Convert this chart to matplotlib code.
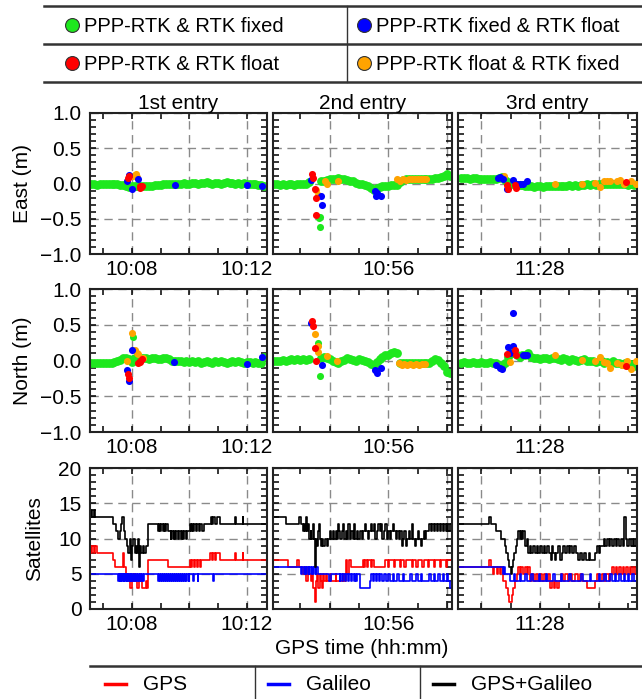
import numpy as np
import matplotlib
matplotlib.use('Agg')
import matplotlib.pyplot as plt
from matplotlib.ticker import MultipleLocator, FuncFormatter

plt.rcParams['font.family'] = ['Liberation Sans', 'DejaVu Sans']
plt.rcParams['font.size'] = 15

# ---------------- data (time in minutes since 00:00) ----------------
col_xlim = [(606.55, 612.70), (652.07, 658.17), (685.20, 691.31)]
col_titles = ['1st entry', '2nd entry', '3rd entry']
green_span = [(606.6, 612.6), (652.1, 658.1), (685.3, 691.3)]

nan = np.nan
# green = PPP-RTK & RTK fixed, sampled along each entry
east_green = [
    [-0.01, -0.01, -0.02, -0.01, -0.01, 0.0, -0.01, -0.01, -0.01, -0.01, -0.02, -0.02, -0.04, -0.05, -0.04,
     -0.03, -0.03, -0.04, -0.04, -0.04, -0.03, -0.03, -0.02, -0.02, -0.02, -0.01, -0.01, -0.01, 0.0, -0.01,
     0.0, 0.0, 0.01, 0.0, 0.0, 0.01, 0.01, 0.0, 0.01, 0.01, 0.02, 0.01, 0.0, 0.01, 0.01, 0.0, 0.01, 0.02,
     0.01, 0.01, 0.0, 0.01, 0.0, 0.01, 0.0, -0.01, 0.0, -0.01, -0.02, -0.02, -0.03],
    [-0.01, -0.01, -0.02, -0.01, -0.02, -0.01, -0.01, -0.02, -0.01, 0.0, -0.01, 0.0, 0.02, nan, nan, nan,
     0.03, 0.04, 0.05, 0.06, 0.07, 0.07, 0.08, 0.07, 0.06, 0.05, 0.04, 0.03, 0.01, 0.0, -0.01, -0.02, -0.03,
     -0.06, -0.09, -0.07, -0.05, -0.04, -0.03, -0.03, -0.02, -0.02, -0.02, 0.02, 0.05, 0.06, 0.06, 0.06,
     0.06, 0.06, 0.06, 0.06, 0.06, 0.07, 0.07, 0.08, 0.08, 0.09, 0.1, 0.13, 0.1],
    [0.08, 0.08, 0.08, 0.07, 0.08, 0.08, 0.07, 0.07, 0.07, 0.06, 0.07, 0.07, 0.07, 0.08, 0.09, 0.05, 0.02,
     0.0, -0.01, -0.02, -0.02, -0.02, -0.03, -0.04, -0.04, -0.05, -0.04, -0.04, -0.05, -0.04, -0.04, -0.03,
     -0.04, -0.03, -0.04, -0.03, -0.03, -0.02, -0.03, -0.02, -0.03, -0.02, -0.02, -0.01, -0.02, -0.01, -0.02,
     -0.01, -0.01, 0.0, -0.01, 0.0, -0.01, 0.0, -0.01, 0.0, -0.01, -0.02, -0.01, -0.02, -0.01],
]
north_green = [
    [-0.03, -0.03, -0.04, -0.03, -0.03, -0.04, -0.03, -0.03, -0.02, -0.01, 0.01, 0.03, 0.04, 0.02, -0.02,
     0.04, 0.05, 0.04, 0.04, 0.03, 0.02, 0.03, 0.03, 0.02, 0.02, 0.03, 0.04, 0.02, 0.0, -0.01, 0.0, -0.01,
     -0.02, -0.01, -0.02, -0.01, -0.02, -0.01, -0.03, -0.02, -0.01, -0.02, -0.03, -0.01, -0.02, -0.01, -0.02,
     -0.03, -0.02, -0.01, -0.02, -0.01, -0.02, -0.03, -0.02, -0.02, -0.03, -0.02, -0.03, -0.03, 0.05],
    [0.0, -0.01, 0.0, 0.01, 0.0, 0.01, 0.02, 0.01, 0.02, 0.01, 0.02, 0.01, 0.02, nan, nan, nan, 0.04, 0.05,
     0.03, 0.02, 0.0, -0.02, -0.03, 0.0, 0.01, 0.03, 0.02, 0.01, 0.0, 0.02, 0.01, 0.0, -0.02, -0.05, -0.06,
     -0.02, 0.02, 0.05, 0.07, 0.08, 0.1, 0.12, 0.1, -0.03, -0.04, -0.04, -0.04, -0.04, -0.04, -0.04, -0.04,
     -0.04, -0.04, -0.03, 0.0, 0.02, 0.01, -0.03, -0.08, -0.16, -0.17],
    [-0.03, -0.02, -0.03, -0.03, -0.02, -0.03, -0.03, -0.02, -0.03, -0.03, -0.02, -0.03, -0.04, -0.06, -0.08,
     -0.04, 0.05, 0.1, 0.1, 0.07, 0.05, 0.07, 0.08, 0.1, 0.05, 0.03, 0.04, 0.02, 0.03, 0.04, 0.02, 0.03,
     0.04, 0.02, 0.01, 0.03, 0.02, 0.0, 0.02, 0.01, 0.0, 0.01, 0.02, 0.0, -0.01, 0.0, -0.02, 0.0, -0.01,
     -0.03, -0.02, -0.03, -0.01, -0.04, -0.03, -0.05, -0.04, -0.06, -0.05, -0.07, -0.06],
]
# isolated green epochs (t, value)
east_green_extra = [[], [(653.63, -0.49), (653.66, -0.61), (653.68, -0.47)], []]
north_green_extra = [[(608.03, 0.33)], [(653.60, 0.25), (653.66, -0.21)], []]

# orange = PPP-RTK float & RTK fixed
east_orange = [
    [(607.83, 0.04), (608.06, 0.10), (608.15, 0.13), (608.20, 0.09), (608.12, 0.12)],
    [(653.83, 0.03), (653.91, 0.0), (654.29, 0.04), (653.54, -0.09), (653.60, -0.16),
     (656.29, 0.06), (656.40, 0.04), (656.50, 0.07), (656.60, 0.05), (656.70, 0.07), (656.80, 0.06),
     (656.90, 0.07), (657.00, 0.06), (657.10, 0.07), (657.20, 0.06), (657.30, 0.07)],
    [(686.77, 0.10), (688.51, -0.01), (689.43, -0.005), (689.89, 0.005), (690.06, -0.05), (690.17, 0.03),
     (690.29, 0.04), (690.40, 0.03), (690.63, 0.03), (690.74, 0.05), (690.86, 0.0), (691.09, 0.03),
     (691.26, -0.01)],
]
north_orange = [
    [(608.02, 0.38), (607.83, 0.0), (608.12, 0.15), (608.17, 0.11), (608.23, 0.09), (608.40, 0.04)],
    [(653.49, 0.37), (653.60, 0.20), (653.62, 0.12), (653.91, 0.06), (654.25, 0.0),
     (656.35, -0.04), (656.45, -0.06), (656.55, -0.05), (656.65, -0.06), (656.75, -0.05), (656.85, -0.06),
     (656.95, -0.05), (657.05, -0.06), (657.15, -0.05), (657.25, -0.05)],
    [(686.97, -0.02), (688.51, 0.08), (689.43, 0.01), (689.89, 0.0), (690.06, 0.05), (690.17, -0.02),
     (690.29, -0.04), (690.40, -0.10), (690.63, -0.04), (690.80, -0.06), (690.97, 0.0), (691.09, -0.12),
     (691.26, 0.0)],
]
# blue = PPP-RTK fixed & RTK float
east_blue = [
    [(607.83, 0.03), (607.92, 0.12), (608.00, -0.08), (608.23, 0.06), (609.50, -0.02), (612.02, -0.02),
     (612.54, -0.03)],
    [(653.37, 0.05), (653.71, -0.18), (653.74, -0.31), (655.54, -0.11), (655.58, -0.18), (655.75, -0.18),
     (655.60, -0.14)],
    [(686.57, 0.08), (686.63, 0.09), (687.09, 0.05), (687.20, -0.01), (687.43, -0.01), (687.54, 0.03),
     (686.88, -0.08), (686.74, 0.07), (687.31, 0.0)],
]
north_blue = [
    [(607.85, -0.13), (607.92, -0.28), (608.00, 0.15), (609.48, -0.02), (612.02, -0.05), (612.53, 0.05)],
    [(653.35, 0.52), (653.74, -0.06), (655.54, -0.13), (655.60, -0.17), (655.75, -0.10)],
    [(686.51, -0.06), (686.63, -0.10), (686.69, -0.12), (686.91, 0.19), (687.09, 0.20), (687.09, 0.66),
     (687.43, 0.08), (687.54, 0.08), (687.49, 0.07), (686.97, 0.10)],
]
# red = PPP-RTK & RTK float
east_red = [
    [(607.88, 0.08), (607.90, 0.10), (608.27, -0.04), (608.35, -0.03), (608.29, -0.07), (608.31, -0.05)],
    [(653.41, 0.13), (653.45, 0.08), (653.49, -0.08), (653.52, -0.21), (653.54, -0.45)],
    [(686.88, -0.02), (686.91, -0.08), (687.14, -0.02), (687.18, -0.06), (690.95, 0.02)],
]
north_red = [
    [(607.88, -0.19), (607.91, -0.24), (608.21, -0.04), (608.27, -0.02), (608.35, 0.02), (608.29, 0.0)],
    [(653.39, 0.55), (653.43, 0.48), (653.51, 0.18), (653.54, -0.01)],
    [(686.88, 0.09), (687.14, 0.15), (687.18, 0.08), (690.95, -0.08)],
]

# satellites: (time of change, count)
sat_gps = [
    [(606.55, 9), (606.60, 8), (606.63, 9), (606.68, 8), (606.72, 9), (606.78, 8), (607.36, 7), (607.42, 6),
     (607.68, 8), (607.73, 6), (607.80, 5), (607.85, 4), (607.90, 5), (607.95, 3), (608.00, 4), (608.03, 5),
     (608.08, 4), (608.12, 5), (608.16, 4), (608.20, 3), (608.24, 4), (608.28, 5), (608.31, 4), (608.35, 3),
     (608.48, 4), (608.52, 3), (608.58, 7), (609.27, 6), (610.02, 7), (610.06, 6), (610.10, 7), (610.15, 6),
     (610.20, 7), (610.26, 6), (610.30, 7), (610.36, 6), (610.42, 7), (610.72, 8), (610.78, 7), (610.82, 8),
     (610.88, 7), (610.92, 8), (611.06, 7), (611.58, 8), (611.62, 7), (611.85, 8), (611.88, 7), (612.70, 7)],
    [(652.07, 7), (652.57, 6), (652.90, 7), (652.95, 6), (653.10, 5), (653.15, 6), (653.20, 4), (653.25, 6),
     (653.31, 5), (653.35, 4), (653.40, 5), (653.45, 3), (653.50, 1), (653.54, 4), (653.58, 5), (653.62, 3),
     (653.66, 5), (653.70, 4), (653.74, 3), (653.78, 5), (653.82, 4), (653.86, 5), (653.90, 4), (654.00, 5),
     (654.03, 4), (654.20, 5), (654.23, 4), (654.45, 5), (654.48, 4), (654.57, 7), (654.60, 5), (654.65, 7),
     (654.74, 6), (655.14, 7), (655.18, 6), (655.22, 7), (655.28, 6), (655.32, 7), (655.40, 6), (655.45, 7),
     (655.50, 6), (655.89, 7), (655.98, 6), (656.02, 7), (656.20, 6), (656.24, 7), (656.40, 6), (656.44, 7),
     (656.55, 6), (656.60, 7), (656.80, 6), (656.84, 7), (656.95, 6), (657.00, 7), (657.15, 6), (657.20, 7),
     (657.35, 6), (657.40, 7), (657.55, 6), (657.60, 7), (657.75, 6), (657.80, 7), (657.95, 6), (658.00, 7),
     (658.17, 7)],
    [(685.20, 6), (686.27, 7), (686.31, 6), (686.40, 5), (686.44, 6), (686.52, 5), (686.56, 6), (686.62, 5),
     (686.66, 6), (686.74, 4), (686.85, 3), (686.90, 2), (686.95, 1), (687.03, 2), (687.08, 3), (687.14, 4),
     (687.20, 5), (687.25, 6), (687.30, 5), (687.35, 6), (687.42, 5), (687.48, 6), (687.55, 5), (687.60, 6),
     (687.66, 4), (687.72, 5), (687.78, 4), (687.85, 5), (687.92, 4), (688.00, 5), (688.06, 4), (688.12, 5),
     (688.20, 4), (688.28, 5), (688.34, 3), (688.40, 4), (688.46, 3), (688.52, 4), (688.58, 3), (688.64, 4),
     (688.70, 5), (688.78, 4), (688.86, 5), (688.94, 4), (689.02, 5), (689.10, 4), (689.20, 5), (689.28, 4),
     (689.36, 5), (689.44, 4), (689.60, 3), (689.89, 4), (689.95, 5), (690.02, 4), (690.10, 5), (690.18, 4),
     (690.26, 5), (690.34, 4), (690.40, 5), (690.46, 6), (690.52, 5), (690.58, 6), (690.64, 5), (690.70, 6),
     (690.76, 5), (690.82, 6), (690.88, 5), (690.94, 6), (691.00, 5), (691.06, 6), (691.12, 5), (691.18, 6),
     (691.24, 5), (691.31, 5)],
]
sat_gal = [
    [(606.55, 5), (607.54, 4), (607.56, 5), (607.58, 4), (607.60, 5), (607.62, 4), (607.64, 5), (607.67, 4),
     (607.69, 5), (607.72, 4), (607.74, 5), (607.77, 4), (607.79, 5), (607.82, 4), (607.85, 5), (607.88, 4),
     (607.90, 5), (607.93, 4), (607.96, 5), (607.99, 4), (608.02, 5), (608.05, 4), (608.08, 5), (608.12, 4),
     (608.15, 5), (608.19, 4), (608.22, 5), (608.26, 4), (608.29, 5), (608.33, 4), (608.36, 5), (608.40, 4),
     (608.43, 5), (608.92, 4), (608.94, 5), (608.98, 4), (609.00, 5), (609.05, 4), (609.07, 5), (609.12, 4),
     (609.14, 5), (609.19, 4), (609.21, 5), (609.26, 4), (609.28, 5), (609.33, 4), (609.35, 5), (609.40, 4),
     (609.42, 5), (609.47, 4), (609.49, 5), (609.54, 4), (609.56, 5), (609.61, 4), (609.63, 5), (609.68, 4),
     (609.70, 5), (609.75, 4), (609.77, 5), (609.82, 4), (609.84, 5), (609.90, 4), (609.92, 5), (609.98, 4),
     (610.00, 5), (610.14, 4), (610.16, 5), (610.29, 4), (610.31, 5), (610.83, 4), (610.85, 5), (612.70, 5)],
    [(652.07, 6), (653.03, 5), (653.06, 6), (653.12, 5), (653.15, 6), (653.20, 5), (653.23, 6), (653.28, 5),
     (653.31, 6), (653.36, 5), (653.39, 6), (653.44, 5), (653.47, 6), (653.52, 5), (653.55, 6), (653.60, 5),
     (653.97, 4), (654.03, 5), (654.34, 4), (654.37, 5), (654.42, 4), (654.45, 5), (654.52, 4), (654.55, 5),
     (654.62, 4), (654.65, 5), (654.72, 4), (654.75, 5), (654.82, 4), (654.85, 5), (654.90, 4), (654.93, 5),
     (655.03, 3), (655.37, 4), (655.42, 5), (655.47, 4), (655.52, 5), (655.58, 4), (655.62, 5), (655.68, 4),
     (655.72, 5), (655.80, 4), (655.85, 5), (655.92, 4), (656.00, 5), (656.05, 4), (656.15, 5), (656.20, 4),
     (656.30, 5), (656.35, 4), (656.50, 5), (656.55, 4), (656.75, 5), (656.80, 4), (656.95, 5), (657.00, 4),
     (657.10, 5), (657.15, 4), (657.40, 5), (657.45, 4), (657.55, 5), (657.60, 4), (657.70, 5), (657.75, 4),
     (657.85, 5), (657.90, 4), (658.00, 5), (658.05, 4), (658.10, 3), (658.17, 3)],
    [(685.20, 6), (686.74, 5), (686.78, 6), (686.82, 5), (686.97, 4), (687.10, 5), (687.14, 4), (687.30, 5),
     (687.34, 4), (687.50, 5), (687.55, 4), (687.70, 5), (687.75, 4), (687.95, 5), (688.00, 4), (688.20, 5),
     (688.25, 4), (688.45, 5), (688.50, 4), (688.70, 5), (688.75, 4), (689.00, 5), (689.05, 4), (689.40, 5),
     (689.45, 4), (689.70, 5), (689.75, 4), (690.00, 5), (690.05, 4), (690.20, 5), (690.25, 4), (690.40, 5),
     (690.45, 4), (690.55, 5), (690.60, 4), (690.70, 5), (690.75, 4), (690.85, 5), (690.90, 4), (691.00, 5),
     (691.05, 4), (691.15, 5), (691.20, 4), (691.31, 4)],
]
sat_both = [
    [(606.55, 13), (606.60, 14), (606.63, 13), (606.68, 14), (606.72, 13), (607.36, 12), (607.45, 11),
     (607.52, 10), (607.58, 11), (607.62, 12), (607.66, 13), (607.72, 11), (607.78, 10), (607.83, 9),
     (607.88, 8), (607.93, 10), (607.97, 7), (608.01, 9), (608.06, 10), (608.10, 8), (608.14, 9), (608.18, 8),
     (608.22, 10), (608.25, 6), (608.29, 9), (608.33, 8), (608.38, 9), (608.42, 8), (608.50, 9), (608.58, 12),
     (608.92, 11), (608.95, 12), (608.99, 11), (609.03, 12), (609.07, 11), (609.12, 12), (609.16, 11),
     (609.20, 12), (609.26, 11), (609.35, 10), (609.38, 11), (609.44, 10), (609.47, 11), (609.52, 10),
     (609.55, 11), (609.60, 10), (609.64, 11), (609.70, 10), (609.73, 11), (609.78, 10), (609.82, 11),
     (609.88, 10), (609.92, 11), (610.02, 12), (610.05, 11), (610.10, 12), (610.14, 11), (610.18, 12),
     (610.23, 11), (610.28, 12), (610.32, 11), (610.37, 12), (610.45, 11), (610.50, 12), (610.75, 13),
     (610.80, 12), (610.84, 13), (610.90, 12), (610.95, 13), (611.06, 12), (611.58, 13), (611.62, 12),
     (611.85, 13), (611.88, 12), (612.70, 12)],
    [(652.07, 13), (652.51, 12), (652.97, 13), (653.03, 12), (653.09, 11), (653.13, 12), (653.17, 11),
     (653.20, 13), (653.24, 11), (653.27, 12), (653.31, 10), (653.35, 11), (653.38, 10), (653.42, 12),
     (653.46, 10), (653.49, 6), (653.52, 10), (653.56, 9), (653.60, 11), (653.64, 12), (653.68, 10),
     (653.71, 9), (653.75, 10), (653.79, 9), (653.83, 10), (653.90, 9), (653.95, 10), (654.01, 11),
     (654.06, 10), (654.10, 11), (654.15, 10), (654.20, 11), (654.25, 10), (654.30, 12), (654.33, 11),
     (654.37, 10), (654.41, 11), (654.45, 12), (654.50, 10), (654.55, 11), (654.60, 10), (654.63, 12),
     (654.68, 10), (654.73, 11), (654.78, 10), (654.82, 12), (654.87, 10), (654.92, 11), (654.97, 10),
     (655.05, 11), (655.10, 10), (655.15, 11), (655.20, 12), (655.25, 11), (655.30, 10), (655.35, 11),
     (655.40, 12), (655.45, 11), (655.50, 12), (655.55, 10), (655.60, 11), (655.65, 12), (655.70, 11),
     (655.75, 12), (655.80, 10), (655.85, 11), (655.90, 12), (655.95, 10), (656.00, 11), (656.05, 10),
     (656.10, 11), (656.15, 12), (656.20, 11), (656.25, 10), (656.30, 11), (656.35, 10), (656.40, 11),
     (656.45, 9), (656.50, 10), (656.55, 11), (656.60, 9), (656.65, 10), (656.70, 11), (656.75, 10),
     (656.80, 12), (656.85, 10), (656.90, 9), (656.95, 10), (657.00, 11), (657.05, 10), (657.10, 9),
     (657.15, 10), (657.20, 11), (657.25, 10), (657.30, 11), (657.40, 12), (657.45, 11), (657.50, 12),
     (657.55, 11), (657.60, 12), (657.65, 11), (657.70, 12), (657.75, 11), (657.80, 12), (657.85, 11),
     (657.90, 12), (657.95, 11), (658.00, 12), (658.05, 11), (658.10, 12), (658.17, 12)],
    [(685.20, 12), (686.27, 13), (686.31, 12), (686.51, 11), (686.68, 10), (686.80, 9), (686.85, 8),
     (686.90, 7), (686.95, 6), (687.00, 5), (687.04, 6), (687.08, 7), (687.12, 8), (687.17, 9), (687.22, 10),
     (687.26, 11), (687.30, 10), (687.34, 11), (687.38, 10), (687.42, 11), (687.50, 9), (687.55, 10),
     (687.60, 8), (687.65, 9), (687.70, 8), (687.76, 9), (687.82, 8), (687.88, 9), (687.94, 8), (688.00, 9),
     (688.06, 8), (688.12, 9), (688.18, 8), (688.24, 9), (688.30, 8), (688.36, 7), (688.40, 9), (688.45, 8),
     (688.50, 7), (688.56, 8), (688.62, 9), (688.68, 7), (688.74, 8), (688.80, 9), (688.86, 8), (688.92, 9),
     (688.98, 8), (689.04, 9), (689.10, 8), (689.16, 9), (689.22, 8), (689.28, 7), (689.36, 8), (689.42, 7),
     (689.50, 8), (689.56, 7), (689.66, 8), (689.72, 7), (689.89, 8), (689.95, 9), (690.00, 8), (690.06, 9),
     (690.17, 10), (690.22, 9), (690.28, 10), (690.34, 9), (690.40, 10), (690.46, 9), (690.52, 10),
     (690.58, 9), (690.64, 10), (690.70, 9), (690.76, 10), (690.82, 9), (690.88, 13), (690.92, 10),
     (690.98, 9), (691.04, 10), (691.10, 9), (691.16, 10), (691.22, 9), (691.28, 10), (691.31, 10)],
]

GREEN = '#1ee81e'
RED = '#ff0000'
BLUE = '#0000ff'
ORANGE = '#ffa300'

W, H = 642, 699
fig = plt.figure(figsize=(W / 100, H / 100), dpi=100)

col_px = [(90, 267), (273, 452), (458, 637)]
row_px = [(113, 254), (289, 432), (468, 609)]


def px_axes(x0, x1, y0, y1):
    return fig.add_axes([x0 / W, 1 - y1 / H, (x1 - x0) / W, (y1 - y0) / H])


def hhmm(v, pos):
    m = int(round(v))
    if m % 4:
        return ''
    return f'{m // 60}:{m % 60:02d}'


def style(ax, show_y):
    ax.xaxis.set_major_locator(MultipleLocator(2))
    ax.xaxis.set_minor_locator(MultipleLocator(1))
    ax.xaxis.set_major_formatter(FuncFormatter(hhmm))
    ax.grid(True, which='major', color='#8a8a8a', linestyle=(0, (6, 4)), linewidth=1.0)
    ax.tick_params(which='both', direction='in', top=True, right=True, length=4.5, width=1.1,
                   labelsize=15, pad=4)
    ax.tick_params(axis='y', pad=6)
    for s in ax.spines.values():
        s.set_linewidth(1.5)
        s.set_color('#222222')
    if not show_y:
        ax.tick_params(labelleft=False)
    ax.set_axisbelow(True)


def scat(ax, pts, color):
    if len(pts) == 0:
        return
    t, v = zip(*pts)
    ax.scatter(t, v, s=26, color=color, linewidths=0, zorder=3)


for j in range(3):
    x0, x1 = col_px[j]
    g_t = np.linspace(green_span[j][0], green_span[j][1], len(east_green[j]))
    for i, (green, extra, orange, blue, red) in enumerate([
            (east_green[j], east_green_extra[j], east_orange[j], east_blue[j], east_red[j]),
            (north_green[j], north_green_extra[j], north_orange[j], north_blue[j], north_red[j])]):
        ax = px_axes(x0, x1, *row_px[i])
        ax.scatter(g_t, green, s=40, color=GREEN, linewidths=0, zorder=2)
        scat(ax, extra, GREEN)
        scat(ax, orange, ORANGE)
        scat(ax, blue, BLUE)
        scat(ax, red, RED)
        ax.set_xlim(*col_xlim[j])
        ax.set_ylim(-1.0, 1.0)
        ax.yaxis.set_major_locator(MultipleLocator(0.5))
        ax.yaxis.set_minor_locator(MultipleLocator(0.1))
        ax.yaxis.set_major_formatter(FuncFormatter(lambda v, p: f'{v:.1f}'.replace('-', '\u2212')))
        style(ax, j == 0)
        if i == 0:
            ax.set_title(col_titles[j], fontsize=15, pad=3)
        if j == 0:
            ax.set_ylabel(['East (m)', 'North (m)'][i], fontsize=15, labelpad=6)

    ax = px_axes(x0, x1, *row_px[2])
    for series, color in [(sat_gps[j], RED), (sat_gal[j], BLUE), (sat_both[j], 'black')]:
        t, v = zip(*series)
        ax.plot(t, v, drawstyle='steps-post', color=color, linewidth=1.2)
    ax.set_xlim(*col_xlim[j])
    ax.set_ylim(0, 20)
    ax.yaxis.set_major_locator(MultipleLocator(5))
    ax.yaxis.set_minor_locator(MultipleLocator(1))
    style(ax, j == 0)
    if j == 0:
        ax.set_ylabel('Satellites', fontsize=15, labelpad=10)

fig.text(362 / W, 1 - 649 / H, 'GPS time (hh:mm)', ha='center', va='center', fontsize=15)

# legend boxes drawn in pixel space
lg = fig.add_axes([0, 0, 1, 1])
lg.set_xlim(0, W)
lg.set_ylim(H, 0)
lg.axis('off')
LC = '#333333'
for y in (6, 44, 82):
    lg.plot([44, W], [y, y], color=LC, linewidth=1.8)
lg.plot([347, 347], [6, 82], color=LC, linewidth=1.0)
top_items = [(72, 25, GREEN, 'PPP-RTK & RTK fixed'), (364, 25, BLUE, 'PPP-RTK fixed & RTK float'),
             (72, 63, RED, 'PPP-RTK & RTK float'), (364, 63, ORANGE, 'PPP-RTK float & RTK fixed')]
for x, y, c, label in top_items:
    lg.plot([x], [y], 'o', markersize=10, markerfacecolor=c, markeredgecolor='#333333', markeredgewidth=0.8)
    lg.text(x + 12, y + 1, label, ha='left', va='center', fontsize=14.5)

lg.plot([90, W], [666, 666], color=LC, linewidth=1.8)
lg.plot([255, 255], [666, H], color=LC, linewidth=1.0)
lg.plot([420, 420], [666, H], color=LC, linewidth=1.0)
bottom_items = [(105, RED, 'GPS'), (268, BLUE, 'Galileo'), (433, 'black', 'GPS+Galileo')]
for x, c, label in bottom_items:
    lg.plot([x, x + 21], [684, 684], color=c, linewidth=2.5)
    lg.text(x + 38, 685, label, ha='left', va='center', fontsize=15)

fig.savefig('out.png', dpi=100)
